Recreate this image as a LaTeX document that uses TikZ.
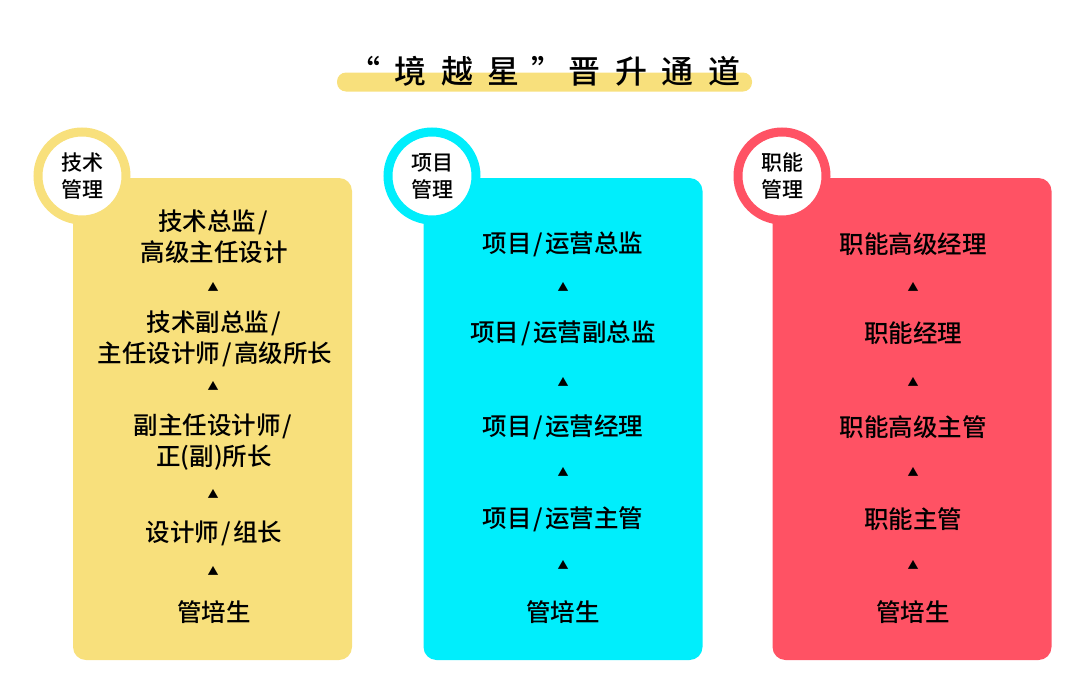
\documentclass[tikz,border=0pt]{standalone}
\usepackage{fontspec}
\newfontfamily\cjk{Noto Sans CJK SC}
\newfontfamily\cjkm{Noto Sans CJK SC Medium}
\definecolor{yel}{RGB}{248,224,124}
\definecolor{cya}{RGB}{0,238,252}
\definecolor{rd}{RGB}{255,82,100}
\tikzset{
  panel/.style={rectangle,rounded corners=13pt,minimum width=279pt,minimum height=482pt,inner sep=0pt},
  ring/.style={circle,fill=white,line width=9pt,minimum size=88pt,inner sep=0pt,align=center,
    font=\cjkm\fontsize{21}{27}\selectfont},
  rank/.style={align=center,inner sep=0pt,font=\cjkm\fontsize{24.5}{31}\selectfont},
  tri/.style={inner sep=0pt,font=\cjk\fontsize{11}{11}\selectfont}
}
\newcommand{\slsep}{\kern2pt/\kern2pt}
\begin{document}
\begin{tikzpicture}[x=1pt,y=-1pt]
\useasboundingbox (0,0) rectangle (1080,683);

% title
\node (bar) at (544.5,82) [rectangle,rounded corners=9pt,fill=yel,minimum width=415pt,minimum height=19pt,inner sep=0pt] {};
\node (title) at (544,71) [inner sep=0pt,font=\cjkm\fontsize{32}{32}\selectfont\addfontfeature{LetterSpace=45}] {“\kern15pt境越星\kern12pt”\kern5pt晋升通道};

% panels
\node (p1) at (212.5,419) [panel,fill=yel] {};
\node (p2) at (563,419) [panel,fill=cya] {};
\node (p3) at (912,419) [panel,fill=rd] {};

\node (c1) at (82,176) [ring,draw=yel] {技术\\管理};
\node (c2) at (432,176) [ring,draw=cya] {项目\\管理};
\node (c3) at (782,176) [ring,draw=rd] {职能\\管理};

% left column
\node (a1) at (214,237) [rank] {技术总监\slsep\\高级主任设计};
\node (a1t) at (213,287) [tri] {▲};
\node (a2) at (215,339) [rank] {技术副总监\slsep\\主任设计师\slsep 高级所长};
\node (a2t) at (213,386) [tri] {▲};
\node (a3) at (214,442) [rank] {副主任设计师\slsep\\正(副)所长};
\node (a3t) at (213,494) [tri] {▲};
\node (a4) at (214,533) [rank] {设计师\slsep 组长};
\node (a4t) at (213,571) [tri] {▲};
\node (a5) at (214,612) [rank] {管培生};

% middle column
\node (b1) at (563,244) [rank] {项目\slsep 运营总监};
\node (b1t) at (563,287) [tri] {▲};
\node (b2) at (563,333) [rank] {项目\slsep 运营副总监};
\node (b2t) at (563,382) [tri] {▲};
\node (b3) at (563,427) [rank] {项目\slsep 运营经理};
\node (b3t) at (563,472) [tri] {▲};
\node (b4) at (563,519) [rank] {项目\slsep 运营主管};
\node (b4t) at (563,565) [tri] {▲};
\node (b5) at (563,612) [rank] {管培生};

% right column
\node (d1) at (913,244) [rank] {职能高级经理};
\node (d1t) at (913,287) [tri] {▲};
\node (d2) at (913,333) [rank] {职能经理};
\node (d2t) at (913,382) [tri] {▲};
\node (d3) at (913,427) [rank] {职能高级主管};
\node (d3t) at (913,472) [tri] {▲};
\node (d4) at (913,519) [rank] {职能主管};
\node (d4t) at (913,565) [tri] {▲};
\node (d5) at (913,612) [rank] {管培生};

\end{tikzpicture}
\end{document}
